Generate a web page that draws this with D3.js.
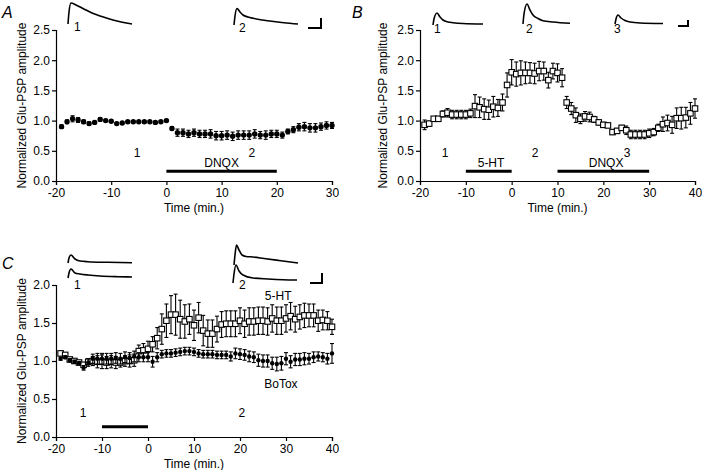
<!DOCTYPE html>
<html><head><meta charset="utf-8">
<script src="https://cdn.jsdelivr.net/npm/d3@7"></script>
<style>
body{margin:0;background:#fff}
svg{display:block}
text{font-family:"Liberation Sans",Arial,Helvetica,sans-serif;fill:#000}
</style>
</head><body>
<svg id="chart" width="702" height="470"></svg>
<script>
// ---------------- DATA ----------------
const timeA = d3.range(-19, 31);   // minutes, panel A
const timeBC = d3.range(-19, 41);  // minutes, panels B and C

const meanA = [0.90,0.98,1.03,1.01,0.98,0.95,0.97,1.02,1.00,0.99,0.95,0.96,0.98,0.98,0.98,0.98,0.98,0.97,0.98,1.00,
  0.87,0.80,0.80,0.78,0.80,0.78,0.78,0.78,0.75,0.75,0.76,0.74,0.76,0.76,0.76,0.78,0.76,0.76,0.78,0.78,
  0.76,0.82,0.85,0.89,0.90,0.88,0.88,0.90,0.92,0.92];
const semA = [0.03,0.03,0.05,0.04,0.03,0.03,0.02,0.03,0.02,0.02,0.02,0.02,0.02,0.02,0.02,0.02,0.02,0.02,0.02,0.02,
  0.03,0.06,0.06,0.06,0.06,0.06,0.06,0.07,0.07,0.07,0.07,0.07,0.07,0.07,0.07,0.07,0.06,0.07,0.06,0.06,
  0.05,0.04,0.05,0.06,0.07,0.07,0.07,0.06,0.06,0.05];

const meanB = [0.93,0.95,1.03,1.03,1.11,1.13,1.10,1.10,1.10,1.10,1.12,1.24,1.22,1.19,1.18,1.23,1.21,1.30,1.59,1.80,
  1.77,1.79,1.79,1.79,1.78,1.82,1.82,1.67,1.82,1.79,1.71,1.30,1.20,1.09,1.03,1.07,1.06,1.02,0.97,0.93,
  0.92,0.81,0.83,0.88,0.84,0.77,0.77,0.77,0.77,0.79,0.81,0.88,0.94,0.96,0.93,1.04,1.04,1.05,1.12,1.20];
const semB = [0.08,0.04,0.03,0.03,0.05,0.07,0.07,0.07,0.07,0.07,0.07,0.19,0.17,0.17,0.16,0.17,0.14,0.14,0.20,0.21,
  0.20,0.20,0.18,0.17,0.17,0.16,0.15,0.13,0.13,0.15,0.15,0.10,0.10,0.12,0.08,0.08,0.08,0.05,0.04,0.04,
  0.03,0.04,0.04,0.04,0.07,0.07,0.07,0.07,0.07,0.07,0.06,0.06,0.12,0.13,0.14,0.17,0.18,0.17,0.18,0.16];

const meanC5HT = [1.10,1.08,1.02,1.00,0.98,0.95,0.99,1.00,0.99,0.99,0.98,0.99,0.98,0.98,1.00,1.00,1.01,1.13,1.14,1.16,
  1.22,1.30,1.42,1.53,1.61,1.61,1.55,1.52,1.55,1.47,1.57,1.40,1.36,1.36,1.42,1.48,1.49,1.49,1.49,1.53,
  1.49,1.52,1.52,1.53,1.53,1.52,1.56,1.53,1.53,1.56,1.59,1.55,1.58,1.60,1.60,1.60,1.53,1.54,1.53,1.45];
const semC5HT = [0.02,0.02,0.02,0.02,0.02,0.03,0.04,0.06,0.08,0.09,0.08,0.08,0.08,0.06,0.07,0.08,0.08,0.08,0.09,0.10,
  0.10,0.14,0.20,0.22,0.25,0.27,0.25,0.22,0.20,0.20,0.20,0.20,0.18,0.18,0.17,0.17,0.17,0.17,0.17,0.17,
  0.18,0.18,0.18,0.18,0.18,0.18,0.18,0.18,0.18,0.18,0.18,0.17,0.16,0.16,0.15,0.15,0.14,0.13,0.12,0.10];

const meanCBoTox = [1.03,1.05,1.01,0.99,0.97,0.91,0.98,1.03,1.03,1.03,1.03,1.03,1.04,1.03,1.05,1.04,1.06,1.05,1.05,1.05,
  0.99,1.05,1.09,1.10,1.10,1.11,1.12,1.13,1.13,1.12,1.10,1.09,1.09,1.09,1.08,1.08,1.08,1.06,1.10,1.09,
  1.08,1.06,1.05,1.01,1.00,1.00,0.97,0.96,0.97,1.03,0.99,1.02,1.02,1.03,1.03,1.05,1.06,1.05,1.03,1.10];
const semCBoTox = [0.02,0.02,0.02,0.02,0.02,0.03,0.05,0.06,0.07,0.07,0.07,0.07,0.07,0.07,0.07,0.07,0.07,0.06,0.06,0.06,
  0.07,0.06,0.05,0.05,0.05,0.05,0.05,0.05,0.05,0.05,0.05,0.05,0.05,0.05,0.05,0.05,0.05,0.06,0.07,0.07,
  0.07,0.07,0.07,0.08,0.08,0.08,0.08,0.09,0.09,0.08,0.08,0.08,0.08,0.08,0.07,0.07,0.06,0.06,0.07,0.13];

const xTicksA = [-20,-10,0,10,20,30];
const xTicksBC = [-20,-10,0,10,20,30,40];
const yTicksAB = [0,0.5,1.0,1.5,2.0,2.5];
const yTicksC = [0,0.5,1.0,1.5,2.0];

// drug application periods [start, end] in minutes
const drugA = [{label:"DNQX", from:0, to:20}];
const drugB = [{label:"5-HT", from:-10, to:0}, {label:"DNQX", from:10, to:30}];
const drugC = [{label:"", from:-10, to:0}];

// example EPSP traces: [time (ms), voltage above baseline (arb.)]
const traceA1 = [[0,0],[1,12],[3,21],[8,19],[15,15.5],[24,11],[32,8],[40,5.5],[49,3],[57,1.2],[64,0]];
const traceA2 = [[0,0],[1,9],[3,16.5],[6,13],[9,10],[14,8],[19,6.7],[28,5],[36,4],[50,2.3],[64,1]];
const traceB1 = [[0,0],[1,6],[4,12],[7,8],[10,5],[15,3],[20,2.3],[30,1.5],[50,1]];
const traceB2 = [[0,0],[1,10],[4,20],[7,14],[10,9],[15,5.5],[20,3.3],[30,2],[47,0.7]];
const traceB3 = [[0,0],[1,5],[3,9],[6,6],[10,3.5],[15,2],[25,1],[48,0.5]];
const traceC1a = [[0,0],[1,5],[3,8],[7,4],[12,2],[20,1.3],[40,0.7],[64,0.3]];
const traceC1b = [[0,0],[1,5],[3,9],[7,5],[12,4],[20,3],[32,2],[50,1.3],[64,1]];
const traceC2a = [[0,0],[1,10],[2.5,20],[5,15],[8,10],[12,8.5],[19,8],[30,6.5],[45,4.5],[64,2]];
const traceC2b = [[0,0],[1,9],[3,18],[6,12],[10,8],[20,5],[35,4],[50,3.3],[64,3]];

// ---------------- DRAW ----------------
const svg = d3.select("#chart");
const FS = 12;

function panel(opt) {
  const g = svg.append("g");
  const x = d3.scaleLinear().domain(opt.xDomain).range(opt.xRange);
  const y = d3.scaleLinear().domain(opt.yDomain).range(opt.yRange);

  const xa = g.append("g").attr("transform", `translate(0,${opt.yRange[0]})`)
    .call(d3.axisBottom(x).tickValues(opt.xTicks).tickSizeOuter(0).tickSize(4).tickPadding(3).tickFormat(d3.format("d")));
  const ya = g.append("g").attr("transform", `translate(${opt.xRange[0]},0)`)
    .call(d3.axisLeft(y).tickValues(opt.yTicks).tickSizeOuter(0).tickSize(4).tickPadding(2).tickFormat(d3.format(".1f")));
  [xa, ya].forEach(a => {
    a.selectAll("path").attr("stroke", "#000").attr("stroke-width", 1.2);
    a.selectAll("line").attr("stroke", "#000").attr("stroke-width", 1.2);
    a.selectAll("text").attr("font-size", FS).attr("font-family", "Liberation Sans, Arial, sans-serif").attr("fill", "#000");
  });
  xa.selectAll("text").text(d => d < 0 ? "-" + Math.abs(d) : d);

  g.append("text").attr("text-anchor", "middle").attr("font-size", FS)
    .attr("x", (opt.xRange[0] + opt.xRange[1]) / 2).attr("y", opt.yRange[0] + 31).text("Time (min.)");
  g.append("text").attr("text-anchor", "middle").attr("font-size", FS).attr("dy", "0.35em")
    .attr("transform", `translate(${opt.xRange[0] + opt.ylabOff},${(opt.yRange[0] + opt.yRange[1]) / 2}) rotate(-90)`)
    .text("Normalized Glu-PSP amplitude");

  g.append("text").attr("font-size", 16).attr("font-style", "italic")
    .attr("x", opt.letterPos[0]).attr("y", opt.letterPos[1]).text(opt.letter);

  // drug bars
  opt.drugs.forEach(d => {
    g.append("line").attr("x1", x(d.from)).attr("x2", x(d.to))
      .attr("y1", y(opt.barY)).attr("y2", y(opt.barY))
      .attr("stroke", "#000").attr("stroke-width", 3);
    if (d.label) g.append("text").attr("text-anchor", "middle").attr("font-size", FS)
      .attr("x", x((d.from + d.to) / 2 + (d.dx || 0))).attr("y", y(opt.barY) - 4).text(d.label);
  });
  return {g, x, y};
}

function series(p, times, mean, sem, kind, size) {
  const g = p.g.append("g");
  const data = times.map((t, i) => ({t, m: mean[i], e: sem[i]}));
  const eb = g.append("g").attr("stroke", "#000").attr("stroke-width", 1.1);
  data.forEach(d => {
    const x0 = p.x(d.t), yt = p.y(d.m + d.e), yb = p.y(d.m - d.e);
    eb.append("line").attr("x1", x0).attr("x2", x0).attr("y1", yt).attr("y2", yb);
    eb.append("line").attr("x1", x0 - 2).attr("x2", x0 + 2).attr("y1", yt).attr("y2", yt);
    eb.append("line").attr("x1", x0 - 2).attr("x2", x0 + 2).attr("y1", yb).attr("y2", yb);
  });
  return {g, data, kind, size, p};
}
function markers(s) {
  const {g, data, kind, size, p} = s;
  if (kind === "circle") {
    g.selectAll("circle").data(data).join("circle")
      .attr("cx", d => p.x(d.t)).attr("cy", d => p.y(d.m)).attr("r", size).attr("fill", "#000");
  } else {
    g.selectAll("rect").data(data).join("rect")
      .attr("x", d => p.x(d.t) - size / 2).attr("y", d => p.y(d.m) - size / 2)
      .attr("width", size).attr("height", size)
      .attr("fill", "#fff").attr("stroke", "#000").attr("stroke-width", 1.1);
  }
}

function trace(pts, x0, yBase, label, lx, ly) {
  const tx = d3.scaleLinear().domain([0, 1]).range([x0, x0 + 1]);
  const ty = d3.scaleLinear().domain([0, 1]).range([yBase, yBase - 1]);
  svg.append("path").datum(pts)
    .attr("d", d3.line().x(d => tx(d[0])).y(d => ty(d[1])).curve(d3.curveMonotoneX))
    .attr("fill", "none").attr("stroke", "#000").attr("stroke-width", 1.6);
  if (label) svg.append("text").attr("font-size", FS).attr("x", lx).attr("y", ly).text(label);
}
function scaleBar(xr, yt, w, h) {
  svg.append("path").attr("d", `M${xr - w},${yt + h}H${xr}V${yt}`)
    .attr("fill", "none").attr("stroke", "#000").attr("stroke-width", 2);
}

// Panel A
const pA = panel({xDomain:[-20,30], xRange:[56,332], yDomain:[0,2.5], yRange:[181,30],
  xTicks:xTicksA, yTicks:yTicksAB, ylabOff:-34, letter:"A", letterPos:[2,18], drugs:drugA, barY:0.16});
const sA = series(pA, timeA, meanA, semA, "circle", 2.7); markers(sA);
pA.g.append("text").attr("font-size", FS).attr("text-anchor", "middle").attr("x", pA.x(-5.3)).attr("y", pA.y(0.46) + 4).text("1");
pA.g.append("text").attr("font-size", FS).attr("text-anchor", "middle").attr("x", pA.x(15.5)).attr("y", pA.y(0.46) + 4).text("2");

// Panel B
drugB[1].dx = 0.6;
drugB[0].dx = 0.5;
const pB = panel({xDomain:[-20,40], xRange:[420,695], yDomain:[0,2.5], yRange:[181,30],
  xTicks:xTicksBC, yTicks:yTicksAB, ylabOff:-37, letter:"B", letterPos:[352,18], drugs:drugB, barY:0.16});
const sB = series(pB, timeBC, meanB, semB, "square", 5.5); markers(sB);
[["1",-14.5],["2",5.1],["3",25.2]].forEach(([l,t]) =>
  pB.g.append("text").attr("font-size", FS).attr("text-anchor", "middle").attr("x", pB.x(t)).attr("y", pB.y(0.47) + 4).text(l));

// Panel C
const pC = panel({xDomain:[-20,40], xRange:[56,332], yDomain:[0,2.0], yRange:[437,285],
  xTicks:xTicksBC, yTicks:yTicksC, ylabOff:-34, letter:"C", letterPos:[2,269], drugs:drugC, barY:0.135});
const sC1 = series(pC, timeBC, meanC5HT, semC5HT, "square", 5.5);
const sC2 = series(pC, timeBC, meanCBoTox, semCBoTox, "circle", 2.2);
markers(sC2); markers(sC1);
pC.g.append("text").attr("font-size", FS).attr("text-anchor", "middle").attr("x", pC.x(-14.1)).attr("y", pC.y(0.32) + 4).text("1");
pC.g.append("text").attr("font-size", FS).attr("text-anchor", "middle").attr("x", pC.x(20.4)).attr("y", pC.y(0.32) + 4).text("2");
pC.g.append("text").attr("font-size", FS).attr("text-anchor", "middle").attr("x", pC.x(28.3)).attr("y", pC.y(1.855) + 4).text("5-HT");
pC.g.append("text").attr("font-size", FS).attr("text-anchor", "middle").attr("x", pC.x(28.9)).attr("y", pC.y(0.70) + 4).text("BoTox");

// Traces
trace(traceA1, 68, 24, "1", 74, 31);
trace(traceA2, 234, 25, "2", 239, 32);
scaleBar(321, 18, 13, 10);
trace(traceB1, 433, 25, "1", 434, 33);
trace(traceB2, 523, 24, "2", 526, 33);
trace(traceB3, 615, 24, "3", 614, 33);
scaleBar(688, 20, 10, 6);
trace(traceC1a, 68, 263, "", 0, 0);
trace(traceC1b, 68, 278, "1", 74, 289);
trace(traceC2a, 234, 265, "", 0, 0);
trace(traceC2b, 233, 283, "2", 239, 289);
scaleBar(322, 273, 12, 10);
</script>
</body></html>
